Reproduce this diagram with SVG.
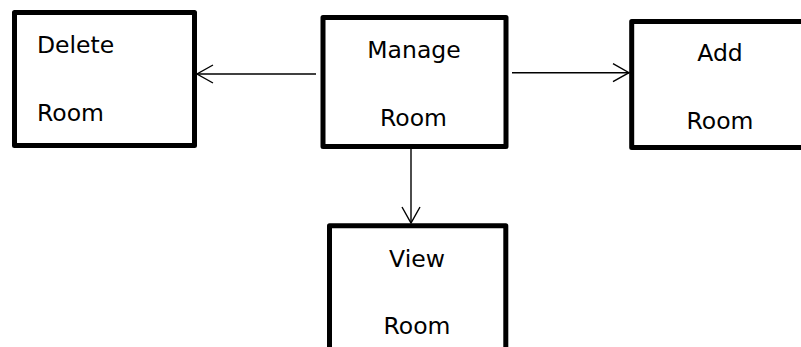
<svg xmlns="http://www.w3.org/2000/svg" width="801" height="347" viewBox="0 0 801 347">
  <defs>
    <style>
      .box { fill: #ffffff; stroke: #000000; stroke-width: 5; stroke-linejoin: round; }
      .label { font-family: "DejaVu Sans", sans-serif; font-size: 23.5px; fill: #000000; }
      .mid { text-anchor: middle; }
      .link { stroke: #000000; stroke-width: 1.4; fill: none; }
    </style>
    <marker id="arrow" viewBox="0 0 20 20" refX="17" refY="10" markerWidth="20" markerHeight="20" markerUnits="userSpaceOnUse" orient="auto">
      <path d="M1,1 L17,10 L1,19" fill="none" stroke="#000000" stroke-width="1.4"/>
    </marker>
  </defs>

  <rect width="801" height="347" fill="#ffffff"/>

  <g id="connectors">
    <line class="link" x1="316" y1="74" x2="197" y2="74" marker-end="url(#arrow)"/>
    <line class="link" x1="512" y1="72.7" x2="629" y2="72.7" marker-end="url(#arrow)"/>
    <line class="link" x1="411" y1="148" x2="411" y2="223" marker-end="url(#arrow)"/>
  </g>

  <g id="delete-room">
    <rect class="box" x="14.5" y="12.5" width="180" height="133"/>
    <text class="label" x="37" y="53.3">Delete</text>
    <text class="label" x="37" y="120.5">Room</text>
  </g>

  <g id="manage-room">
    <rect class="box" x="323" y="17.5" width="183" height="129"/>
    <text class="label mid" x="414" y="58.3">Manage</text>
    <text class="label mid" x="413.5" y="126">Room</text>
  </g>

  <g id="add-room">
    <rect class="box" x="631.7" y="21.5" width="190" height="126"/>
    <text class="label mid" x="720" y="61">Add</text>
    <text class="label mid" x="720" y="129">Room</text>
  </g>

  <g id="view-room">
    <rect class="box" x="329.5" y="225.8" width="176.3" height="140"/>
    <text class="label mid" x="417" y="266.7">View</text>
    <text class="label mid" x="417" y="334.3">Room</text>
  </g>
</svg>
